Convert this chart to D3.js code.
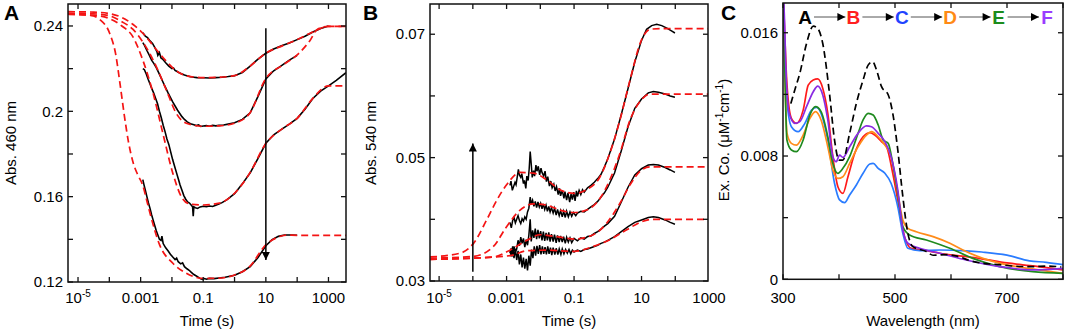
<!DOCTYPE html>
<html><head><meta charset="utf-8">
<script src="https://cdn.jsdelivr.net/npm/d3@7"></script>
<style>body{margin:0;background:#fff}svg{display:block;font-family:"Liberation Sans",Arial,sans-serif}</style>
</head><body>
<script>
// ---------- DATA ----------
// Panel A : [log10(time s), Abs 460 nm]
const fitA1=[[-5.32,.2467],[-4.5,.2465],[-4.0,.2458],[-3.6,.2440],[-3.25,.2408],[-2.93,.2366],[-2.5,.2290],[-2.18,.2235],[-1.86,.2190],[-1.54,.2167],[-1.0,.2158],[-0.48,.2160],[0,.2167],[0.48,.2210],[0.99,.2272],[1.54,.2308],[2.0,.2336],[2.5,.2372],[3.0,.2398],[3.56,.2398]];
const fitA2=[[-5.32,.2460],[-4.5,.2457],[-4.0,.2448],[-3.6,.2420],[-3.25,.2385],[-2.93,.2325],[-2.5,.2210],[-2.18,.2100],[-1.86,.1990],[-1.54,.1944],[-1.0,.1930],[-0.48,.1932],[0,.1944],[0.48,.1990],[0.99,.2152],[1.54,.2217],[2.0,.2264],[2.4,.2330],[2.65,.2385],[3.0,.2398],[3.56,.2398]];
const fitA3=[[-5.32,.2455],[-4.5,.2450],[-4.0,.2435],[-3.6,.2400],[-3.25,.2350],[-2.93,.2240],[-2.6,.2084],[-2.29,.1897],[-1.97,.1709],[-1.70,.1600],[-1.44,.1566],[-1.0,.1561],[-0.48,.1570],[0,.1616],[0.48,.1709],[0.99,.1847],[1.54,.1920],[2.0,.1967],[2.5,.2061],[3.0,.2119],[3.56,.2119]];
const fitA4=[[-5.32,.2455],[-4.6,.2450],[-4.3,.2430],[-3.99,.2366],[-3.8,.2270],[-3.65,.2120],[-3.52,.1980],[-3.38,.1850],[-3.24,.1760],[-3.1,.1705],[-2.93,.1652],[-2.8,.1580],[-2.71,.1528],[-2.39,.1373],[-1.97,.1288],[-1.54,.1241],[-1.0,.1217],[-0.5,.1218],[0,.1233],[0.48,.1272],[0.99,.1373],[1.44,.1413],[1.65,.1420],[2.0,.1419],[3.56,.1419]];
const obsA1=[[-2.93,.2368],[-2.85,.2352],[-2.78,.2345],[-2.7,.2330],[-2.62,.2318],[-2.55,.2300],[-2.48,.2280],[-2.45,.2262],[-2.40,.2275],[-2.35,.2250],[-2.3,.2245],[-2.2,.2228],[-2.1,.2212],[-2.0,.2200],[-1.95,.2203],[-1.9,.2192],[-1.85,.2188],[-1.8,.2183],[-1.75,.2180],[-1.7,.2176],[-1.6,.2170],[-1.5,.2166],[-1.4,.2162],[-1.3,.2160],[-1.2,.2158],[-1.1,.2157],[-1.0,.2157],[-0.8,.2156],[-0.6,.2158],[-0.4,.2160],[-0.2,.2163],[0,.2167],[0.25,.2182],[0.5,.2212],[0.75,.2245],[1.0,.2272],[1.25,.2292],[1.5,.2307],[1.75,.2320],[2.0,.2336],[2.25,.2352],[2.5,.2372],[2.75,.2388],[3.0,.2400]];
const obsA2=[[-2.93,.2322],[-2.88,.2310],[-2.8,.2285],[-2.72,.2262],[-2.65,.2240],[-2.58,.2225],[-2.5,.2205],[-2.42,.2180],[-2.35,.2158],[-2.28,.2135],[-2.2,.2110],[-2.12,.2085],[-2.05,.2065],[-1.98,.2045],[-1.9,.2025],[-1.82,.2005],[-1.75,.1990],[-1.68,.1975],[-1.6,.1962],[-1.52,.1952],[-1.45,.1945],[-1.38,.1940],[-1.3,.1937],[-1.22,.1933],[-1.15,.1936],[-1.08,.1929],[-1.0,.1931],[-0.9,.1933],[-0.8,.1930],[-0.7,.1934],[-0.6,.1932],[-0.5,.1934],[-0.35,.1936],[-0.2,.1940],[0,.1946],[0.25,.1962],[0.5,.1993],[0.75,.2070],[1.0,.2152],[1.25,.2190],[1.5,.2214],[1.75,.2240],[2.0,.2262]];
const obsA3=[[-2.93,.2200],[-2.88,.2195],[-2.82,.2175],[-2.76,.2150],[-2.7,.2128],[-2.64,.2105],[-2.58,.2085],[-2.52,.2060],[-2.46,.2035],[-2.4,.2000],[-2.34,.1970],[-2.28,.1935],[-2.22,.1905],[-2.16,.1870],[-2.1,.1845],[-2.04,.1810],[-1.98,.1775],[-1.92,.1745],[-1.86,.1715],[-1.8,.1685],[-1.74,.1655],[-1.68,.1630],[-1.62,.1605],[-1.56,.1588],[-1.5,.1575],[-1.44,.1570],[-1.38,.1560],[-1.34,.1552],[-1.32,.1508],[-1.30,.1552],[-1.25,.1548],[-1.18,.1545],[-1.1,.1552],[-1.0,.1555],[-0.9,.1553],[-0.8,.1556],[-0.7,.1554],[-0.6,.1560],[-0.5,.1566],[-0.4,.1572],[-0.25,.1585],[0,.1614],[0.25,.1660],[0.5,.1712],[0.75,.1780],[1.0,.1850],[1.25,.1890],[1.5,.1915],[1.75,.1940],[2.0,.1967],[2.25,.2010],[2.5,.2060],[2.75,.2095],[3.0,.2119],[3.25,.2145],[3.56,.2181]];
const obsA4=[[-2.93,.1680],[-2.9,.1660],[-2.85,.1630],[-2.8,.1600],[-2.75,.1570],[-2.7,.1545],[-2.65,.1515],[-2.6,.1490],[-2.55,.1465],[-2.5,.1440],[-2.45,.1420],[-2.4,.1400],[-2.35,.1395],[-2.32,.1415],[-2.28,.1380],[-2.2,.1360],[-2.12,.1345],[-2.05,.1330],[-1.98,.1318],[-1.9,.1305],[-1.85,.1312],[-1.8,.1295],[-1.72,.1285],[-1.66,.1290],[-1.6,.1272],[-1.52,.1262],[-1.45,.1255],[-1.38,.1245],[-1.3,.1235],[-1.22,.1228],[-1.15,.1222],[-1.08,.1215],[-1.02,.1212],[-0.96,.1216],[-0.9,.1213],[-0.8,.1217],[-0.65,.1216],[-0.5,.1219],[-0.3,.1222],[0,.1232],[0.25,.1248],[0.5,.1272],[0.75,.1315],[1.0,.1370],[1.2,.1398],[1.4,.1414],[1.6,.1420],[1.8,.1420],[2.0,.1419]];
const arrowA=[[1.0,.2389],[1.0,.1303]];

// Panel B : [log10(time s), Abs 540 nm]
const fitB1=[[-5.27,.0339],[-4.38,.0345],[-3.98,.0361],[-3.59,.0399],[-3.29,.0431],[-3.0,.0456],[-2.6,.0476],[-2.21,.0475],[-1.81,.0464],[-1.42,.0448],[-0.99,.0442],[-0.63,.0448],[-0.23,.0469],[0.06,.0507],[0.36,.0561],[0.66,.0626],[1.0,.0691],[1.25,.0708],[1.55,.0709],[2.97,.0709]];
const fitB2=[[-5.27,.0337],[-3.98,.0340],[-3.39,.0356],[-3.0,.0388],[-2.6,.0415],[-2.21,.0425],[-1.81,.0423],[-1.42,.0415],[-0.99,.0411],[-0.63,.0415],[-0.23,.0434],[0.06,.0464],[0.36,.0507],[0.66,.0561],[1.0,.0594],[1.25,.0603],[2.97,.0603]];
const fitB3=[[-5.27,.0335],[-3.39,.0339],[-2.9,.0350],[-2.4,.0366],[-2.01,.0375],[-1.42,.0371],[-0.99,.0368],[-0.43,.0375],[-0.03,.0394],[0.36,.0426],[0.66,.0456],[1.0,.0480],[1.25,.0485],[2.97,.0485]];
const fitB4=[[-5.27,.0335],[-2.9,.0341],[-2.4,.0349],[-1.81,.0350],[-0.99,.0348],[-0.43,.0356],[0.06,.0367],[0.56,.0383],[1.0,.0396],[1.35,.0400],[2.97,.0400]];
const obsB1=[[-2.9,.0455],[-2.87,.0462],[-2.83,.0447],[-2.8,.0452],[-2.75,.0460],[-2.72,.0456],[-2.68,.0470],[-2.65,.0481],[-2.62,.0472],[-2.58,.0468],[-2.55,.0474],[-2.5,.0458],[-2.47,.0463],[-2.43,.0450],[-2.4,.0470],[-2.36,.0463],[-2.33,.0482],[-2.3,.0510],[-2.27,.0490],[-2.24,.0468],[-2.2,.0479],[-2.17,.0470],[-2.13,.0488],[-2.1,.0478],[-2.06,.0486],[-2.02,.0472],[-1.98,.0483],[-1.95,.0476],[-1.9,.0470],[-1.86,.0478],[-1.82,.0461],[-1.78,.0469],[-1.73,.0454],[-1.69,.0462],[-1.65,.0451],[-1.6,.0457],[-1.56,.0446],[-1.52,.0453],[-1.47,.0440],[-1.43,.0450],[-1.4,.0438],[-1.35,.0447],[-1.3,.0434],[-1.27,.0445],[-1.22,.0431],[-1.18,.0443],[-1.13,.0428],[-1.09,.0441],[-1.05,.0432],[-1.01,.0444],[-0.97,.0430],[-0.93,.0446],[-0.9,.0437],[-0.85,.0447],[-0.8,.0440],[-0.75,.0448],[-0.7,.0444],[-0.6,.0451],[-0.5,.0455],[-0.4,.0460],[-0.3,.0466],[-0.2,.0473],[-0.1,.0485],[0,.0498],[0.2,.0530],[0.4,.0570],[0.6,.0612],[0.8,.0655],[1.0,.0690],[1.15,.0708],[1.3,.0714],[1.45,.0716],[1.6,.0714],[1.75,.0710],[1.9,.0705],[1.99,.0702]];
const obsB2=[[-2.9,.0395],[-2.86,.0386],[-2.82,.0398],[-2.78,.0403],[-2.74,.0394],[-2.7,.0400],[-2.66,.0406],[-2.62,.0398],[-2.58,.0393],[-2.54,.0401],[-2.5,.0397],[-2.46,.0404],[-2.42,.0400],[-2.38,.0412],[-2.34,.0418],[-2.3,.0436],[-2.27,.0425],[-2.23,.0431],[-2.19,.0421],[-2.15,.0429],[-2.11,.0419],[-2.07,.0428],[-2.03,.0420],[-1.99,.0426],[-1.95,.0417],[-1.91,.0425],[-1.87,.0416],[-1.83,.0423],[-1.79,.0413],[-1.75,.0421],[-1.71,.0412],[-1.67,.0419],[-1.62,.0410],[-1.58,.0418],[-1.53,.0407],[-1.49,.0416],[-1.44,.0406],[-1.4,.0414],[-1.35,.0404],[-1.31,.0413],[-1.26,.0403],[-1.22,.0413],[-1.17,.0404],[-1.12,.0412],[-1.07,.0405],[-1.02,.0411],[-0.95,.0406],[-0.9,.0410],[-0.8,.0413],[-0.7,.0412],[-0.6,.0416],[-0.5,.0420],[-0.4,.0424],[-0.3,.0429],[-0.2,.0436],[-0.1,.0443],[0,.0452],[0.2,.0475],[0.4,.0511],[0.6,.0550],[0.8,.0580],[1.0,.0595],[1.2,.0605],[1.35,.0607],[1.5,.0606],[1.7,.0603],[1.85,.0600],[1.99,.0598]];
const obsB3=[[-2.9,.0345],[-2.86,.0353],[-2.82,.0340],[-2.78,.0356],[-2.74,.0347],[-2.7,.0352],[-2.66,.0366],[-2.62,.0357],[-2.58,.0371],[-2.54,.0361],[-2.5,.0369],[-2.46,.0355],[-2.42,.0367],[-2.38,.0358],[-2.34,.0374],[-2.3,.0400],[-2.27,.0364],[-2.23,.0382],[-2.19,.0370],[-2.15,.0385],[-2.11,.0368],[-2.07,.0383],[-2.03,.0369],[-1.99,.0381],[-1.95,.0366],[-1.91,.0380],[-1.87,.0365],[-1.83,.0378],[-1.79,.0366],[-1.75,.0379],[-1.71,.0364],[-1.67,.0376],[-1.62,.0364],[-1.58,.0375],[-1.53,.0362],[-1.49,.0374],[-1.44,.0363],[-1.4,.0373],[-1.35,.0363],[-1.31,.0372],[-1.26,.0361],[-1.22,.0371],[-1.17,.0363],[-1.12,.0370],[-1.07,.0362],[-1.0,.0369],[-0.9,.0365],[-0.8,.0370],[-0.7,.0368],[-0.6,.0372],[-0.5,.0373],[-0.4,.0377],[-0.3,.0380],[-0.2,.0384],[-0.1,.0389],[0,.0393],[0.2,.0405],[0.4,.0428],[0.6,.0452],[0.8,.0472],[1.0,.0482],[1.2,.0488],[1.35,.0489],[1.5,.0488],[1.7,.0484],[1.85,.0480],[1.99,.0476]];
const obsB4=[[-2.9,.0350],[-2.86,.0340],[-2.82,.0356],[-2.78,.0337],[-2.74,.0352],[-2.7,.0334],[-2.66,.0349],[-2.62,.0327],[-2.58,.0343],[-2.54,.0322],[-2.5,.0338],[-2.46,.0320],[-2.42,.0336],[-2.38,.0317],[-2.34,.0341],[-2.3,.0325],[-2.26,.0351],[-2.22,.0337],[-2.18,.0356],[-2.14,.0341],[-2.1,.0357],[-2.06,.0344],[-2.02,.0358],[-1.98,.0343],[-1.94,.0356],[-1.9,.0344],[-1.86,.0355],[-1.82,.0343],[-1.78,.0356],[-1.74,.0344],[-1.7,.0354],[-1.66,.0342],[-1.62,.0354],[-1.57,.0343],[-1.53,.0353],[-1.48,.0343],[-1.44,.0352],[-1.39,.0343],[-1.35,.0352],[-1.3,.0344],[-1.25,.0351],[-1.2,.0345],[-1.15,.0351],[-1.1,.0344],[-1.05,.0350],[-1.0,.0347],[-0.9,.0350],[-0.8,.0348],[-0.7,.0351],[-0.6,.0352],[-0.5,.0354],[-0.4,.0356],[-0.3,.0358],[-0.2,.0361],[-0.1,.0363],[0,.0366],[0.2,.0372],[0.4,.0380],[0.6,.0388],[0.8,.0395],[1.0,.0399],[1.2,.0403],[1.35,.0404],[1.5,.0403],[1.7,.0399],[1.85,.0395],[1.99,.0392]];
const arrowB=[[-4.0,.0315],[-4.0,.0523]];

// Panel C : [wavelength nm, Ex. Co. (uM^-1 cm^-1)]
const specA=[[314,.0114],[322,.0124],[330,.01336],[342,.0153],[354,.01643],[362,.01628],[371,.0153],[383,.01206],[392,.00904],[400,.00774],[407,.00774],[419,.00947],[431,.01142],[443,.01293],[452,.0139],[460,.01412],[467,.01358],[476,.0125],[488,.01196],[496,.01077],[505,.00839],[514,.00536],[523,.00298],[532,.00212],[556,.0018],[568,.00156],[592,.00160],[611,.00150],[635,.00120],[657,.00104],[687,.00095],[711,.00086],[746,.00082],[771,.00086],[797,.00080]];
const specB=[[300,.019],[303,.0160],[307,.0127],[315,.01044],[324,.01012],[336,.01098],[345,.0126],[354,.01293],[362,.0130],[371,.01239],[380,.01077],[389,.00796],[398,.00601],[407,.00558],[416,.00666],[428,.00817],[443,.00925],[455,.00951],[464,.00936],[476,.00893],[485,.0086],[496,.00688],[508,.0045],[517,.00277],[529,.00201],[556,.00186],[580,.00169],[620,.00150],[650,.00136],[700,.00106],[750,.00085],[800,.0006]];
const specC=[[300,.019],[303,.0150],[307,.0116],[315,.0099],[327,.00958],[339,.01012],[351,.01098],[360,.01116],[368,.01077],[380,.00904],[392,.00623],[401,.00515],[410,.00497],[419,.00547],[431,.00612],[443,.00688],[455,.00748],[461,.00752],[470,.0072],[482,.00688],[493,.00623],[505,.00471],[514,.00298],[523,.00201],[544,.00186],[580,.0019],[627,.00185],[655,.00177],[700,.00157],[740,.0012],[770,.00110],[800,.00095]];
const specD=[[300,.019],[303,.0140],[307,.0095],[315,.00882],[324,.00871],[336,.00936],[348,.01044],[358,.01088],[368,.01034],[380,.0086],[389,.00709],[398,.00655],[407,.00666],[419,.00752],[434,.0086],[449,.00936],[458,.00958],[470,.00925],[482,.00871],[493,.00796],[505,.00558],[514,.00385],[523,.00331],[538,.00309],[568,.00277],[598,.00234],[627,.0018],[657,.00136],[717,.00082],[760,.0006],[800,.00039]];
const specE=[[300,.019],[303,.0140],[307,.00904],[315,.00839],[324,.00828],[336,.00904],[348,.01066],[358,.0112],[368,.01088],[380,.00925],[389,.00752],[398,.00688],[407,.0072],[419,.00796],[434,.00947],[443,.01034],[452,.01077],[461,.01066],[470,.01001],[479,.00904],[488,.00882],[496,.00752],[505,.00558],[514,.00342],[526,.00288],[556,.00255],[598,.00201],[639,.00136],[687,.00082],[746,.0005],[800,.00039]];
const specF=[[300,.019],[303,.0165],[305,.0138],[311,.01077],[321,.01012],[330,.01023],[342,.0112],[354,.01217],[362,.01254],[371,.01196],[380,.01034],[389,.00796],[395,.00763],[401,.00806],[407,.00791],[419,.0086],[434,.00947],[449,.00995],[458,.0099],[470,.00947],[482,.00893],[493,.00796],[505,.00579],[514,.0032],[523,.00234],[544,.00201],[580,.00169],[627,.00125],[687,.00082],[746,.00061],[800,.00071]];

const stateNames=['A','B','C','D','E','F'];
const stateColors=['#000000','#ff2020','#1f44ff','#ff8a14','#1c8c1c','#9a3cff'];
const lineColors=['#000000','#ff1a1a','#2a7cff','#ff8c1a','#1f8a1f','#8a2be2'];

const tickA=[0.12,0.14,0.16,0.18,0.20,0.22,0.24];
const tickLabA={0.12:'0.12',0.16:'0.16',0.2:'0.2',0.24:'0.24'};
const tickB=[0.03,0.04,0.05,0.06,0.07];
const tickLabB={0.03:'0.03',0.05:'0.05',0.07:'0.07'};
const tickC=[0,0.004,0.008,0.012,0.016];
const tickLabC={0:'0',0.008:'0.008',0.016:'0.016'};
const decades=[-5,-4,-3,-2,-1,0,1,2,3];
const decadeLabels={'-5':null,'-3':'0.001','-1':'0.1','1':'10','3':'1000'};
const wlTicks=[300,400,500,600,700,800];
const wlLabels={300:'300',500:'500',700:'700'};

// ---------- DRAW ----------
const svg=d3.select('body').append('svg').attr('width',1065).attr('height',333);
const FS=15, RED='#f41414';
const defs=svg.append('defs');
function marker(id){
  defs.append('marker').attr('id',id).attr('viewBox','0 0 10 10').attr('refX',10).attr('refY',5)
   .attr('markerUnits','userSpaceOnUse').attr('markerWidth',10).attr('markerHeight',8).attr('orient','auto')
   .append('path').attr('d','M0,0L10,5L0,10z').attr('fill','#000');
}
marker('ah'); 

function panel(cfg){
  const g=svg.append('g');
  const x=cfg.x, y=cfg.y;
  const [x0,x1]=x.range(), [y0,y1]=y.range();
  const cid='clip'+cfg.name;
  defs.append('clipPath').attr('id',cid).append('rect').attr('x',x0).attr('y',y1).attr('width',x1-x0).attr('height',y0-y1);
  const plot=g.append('g').attr('clip-path',`url(#${cid})`);
  cfg.draw(plot,x,y);
  g.append('rect').attr('x',x0).attr('y',y1).attr('width',x1-x0).attr('height',y0-y1).attr('fill','none').attr('stroke','#111').attr('stroke-width',1.5);
  cfg.yticks.forEach(v=>{
    const yy=y(v);
    g.append('line').attr('x1',x0).attr('x2',x0+5).attr('y1',yy).attr('y2',yy).attr('stroke','#111').attr('stroke-width',1.3);
    g.append('line').attr('x1',x1).attr('x2',x1-5).attr('y1',yy).attr('y2',yy).attr('stroke','#111').attr('stroke-width',1.3);
    const lab=cfg.ylab[v];
    if(lab!==undefined) g.append('text').attr('x',x0-5).attr('y',yy).attr('dy','0.35em').attr('text-anchor','end').attr('font-size',FS).text(lab);
  });
  cfg.xticks.forEach(v=>{
    const xx=x(v);
    if(xx<x0-0.5||xx>x1+0.5) return;
    g.append('line').attr('x1',xx).attr('x2',xx).attr('y1',y0).attr('y2',y0-5).attr('stroke','#111').attr('stroke-width',1.3);
    g.append('line').attr('x1',xx).attr('x2',xx).attr('y1',y1).attr('y2',y1+5).attr('stroke','#111').attr('stroke-width',1.3);
  });
  cfg.xlabels.forEach(([v,lab])=>{
    const t=g.append('text').attr('x',x(v)).attr('y',303).attr('text-anchor','middle').attr('font-size',FS);
    if(lab===null){ t.append('tspan').text('10'); t.append('tspan').attr('dy',-6).attr('font-size',10).text('-5'); }
    else t.text(lab);
  });
  g.append('text').attr('x',(x0+x1)/2).attr('y',326).attr('text-anchor','middle').attr('font-size',FS).text(cfg.xtitle);
  const yt=g.append('text').attr('transform',`translate(${cfg.ytx},${cfg.yty}) rotate(-90)`).attr('text-anchor','middle').attr('font-size',FS);
  cfg.ytitle(yt);
  g.append('text').attr('x',cfg.lx).attr('y',20).attr('font-size',21).attr('font-weight','bold').text(cfg.name);
}

const logLine=(x,y,curve)=>d3.line().x(d=>x(Math.pow(10,d[0]))).y(d=>y(d[1])).curve(curve);

panel({name:'A',
  x:d3.scaleLog().domain([Math.pow(10,-5.32),Math.pow(10,3.56)]).range([68,346]),
  y:d3.scaleLinear().domain([0.12,0.2503]).range([282,4]),
  yticks:tickA, ylab:tickLabA,
  xticks:decades.map(d=>Math.pow(10,d)),
  xlabels:Object.keys(decadeLabels).map(k=>[Math.pow(10,+k),decadeLabels[k]]),
  xtitle:'Time (s)', ytx:16, yty:143, lx:4,
  ytitle:t=>t.text('Abs. 460 nm'),
  draw:(p,x,y)=>{
    [obsA1,obsA2,obsA3,obsA4].forEach(d=>p.append('path').attr('d',logLine(x,y,d3.curveLinear)(d)).attr('fill','none').attr('stroke','#000').attr('stroke-width',1.6));
    [fitA1,fitA2,fitA3,fitA4].forEach(d=>p.append('path').attr('d',logLine(x,y,d3.curveMonotoneX)(d)).attr('fill','none').attr('stroke',RED).attr('stroke-width',1.7).attr('stroke-dasharray','7,4'));
    p.append('path').attr('d',logLine(x,y,d3.curveLinear)(arrowA)).attr('stroke','#000').attr('stroke-width',1.5).attr('marker-end','url(#ah)');
  }
});

panel({name:'B',
  x:d3.scaleLog().domain([Math.pow(10,-5.27),Math.pow(10,2.97)]).range([430,708]),
  y:d3.scaleLinear().domain([0.03,0.0749]).range([281,4]),
  yticks:tickB, ylab:tickLabB,
  xticks:decades.map(d=>Math.pow(10,d)),
  xlabels:Object.keys(decadeLabels).map(k=>[Math.pow(10,+k),decadeLabels[k]]),
  xtitle:'Time (s)', ytx:376, yty:143, lx:363,
  ytitle:t=>t.text('Abs. 540 nm'),
  draw:(p,x,y)=>{
    [obsB1,obsB2,obsB3,obsB4].forEach(d=>p.append('path').attr('d',logLine(x,y,d3.curveLinear)(d)).attr('fill','none').attr('stroke','#000').attr('stroke-width',1.5));
    [fitB1,fitB2,fitB3,fitB4].forEach(d=>p.append('path').attr('d',logLine(x,y,d3.curveMonotoneX)(d)).attr('fill','none').attr('stroke',RED).attr('stroke-width',1.7).attr('stroke-dasharray','7,4'));
    p.append('path').attr('d',logLine(x,y,d3.curveLinear)(arrowB)).attr('stroke','#000').attr('stroke-width',1.5).attr('marker-end','url(#ah)');
  }
});

const specs=[specA,specB,specC,specD,specE,specF];
panel({name:'C',
  x:d3.scaleLinear().domain([300,800]).range([783,1063]),
  y:d3.scaleLinear().domain([0,0.01793]).range([279.3,3]),
  yticks:tickC, ylab:tickLabC,
  xticks:wlTicks,
  xlabels:Object.keys(wlLabels).map(k=>[+k,wlLabels[k]]),
  xtitle:'Wavelength (nm)', ytx:729, yty:140, lx:721,
  ytitle:t=>{t.append('tspan').text('Ex. Co. (μM');t.append('tspan').attr('dy',-6).attr('font-size',10).text('-1');
    t.append('tspan').attr('dy',6).text('cm');t.append('tspan').attr('dy',-6).attr('font-size',10).text('-1');t.append('tspan').attr('dy',6).text(')');},
  draw:(p,x,y)=>{
    const ln=d3.line().x(d=>x(d[0])).y(d=>y(d[1])).curve(d3.curveMonotoneX);
    [1,2,3,4,5].forEach(i=>p.append('path').attr('d',ln(specs[i])).attr('fill','none').attr('stroke',lineColors[i]).attr('stroke-width',1.7));
    p.append('path').attr('d',ln(specs[0])).attr('fill','none').attr('stroke','#000').attr('stroke-width',1.7).attr('stroke-dasharray','7,4');
    const sx=d3.scalePoint().domain(stateNames).range([805,1047]);
    stateNames.forEach((n,i)=>{
      p.append('text').attr('x',sx(n)).attr('y',24).attr('text-anchor','middle').attr('font-size',19).attr('font-weight','bold').attr('fill',stateColors[i]).text(n);
      if(i<stateNames.length-1){
        const a=sx(n)+9, b=sx(stateNames[i+1])-8;
        p.append('line').attr('x1',a).attr('x2',b).attr('y1',17).attr('y2',17).attr('stroke','#555').attr('stroke-width',1).attr('marker-end','url(#ah)');
      }
    });
  }
});
</script>
</body></html>
